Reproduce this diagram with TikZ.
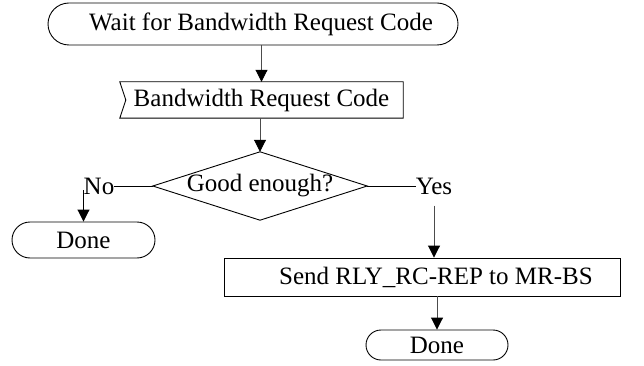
\documentclass[tikz,border=0pt]{standalone}
\usepackage{fontspec}
\setmainfont{Liberation Serif}
\usetikzlibrary{arrows.meta}
\begin{document}
\begin{tikzpicture}[x=1pt,y=-1pt,
  every node/.style={font=\fontsize{25}{28}\selectfont, inner sep=0pt},
  shp/.style={draw, line width=0.9pt},
  conn/.style={line width=0.9pt, draw=black!70},
  arr/.style={conn, -{Triangle[width=12pt,length=12pt,color=black]}}]
\useasboundingbox (0,0) rectangle (644,366);
\node[shp, rounded corners=21pt, minimum width=410pt, minimum height=42pt] (wait) at (253,24) {\hspace*{16pt}Wait for Bandwidth Request Code};
\node[minimum width=283pt, minimum height=36pt] (recv) at (261.5,100) {Bandwidth Request Code};
\draw[shp] (recv.north west) -- (recv.north east) -- (recv.south east) -- (recv.south west) -- ([xshift=6pt]recv.west) -- cycle;
\node[minimum width=214pt, minimum height=68pt] (dec) at (260,186) {Good enough?};
\draw[shp] (dec.north) -- (dec.east) -- (dec.south) -- (dec.west) -- cycle;
\node (no) at (99,186) {No};
\node (yes) at (434,186) {Yes};
\draw[shp] (dec.west) -- (no.east);
\draw[shp] (dec.east) -- (yes.west);
\node[shp, rounded corners=18pt, minimum width=143pt, minimum height=36pt] (done1) at (83.5,240) {Done};
\draw[arr, draw=black] ([yshift=-4pt]done1.north |- no.center) -- (done1.north);
\node[shp, minimum width=396pt, minimum height=38pt] (send) at (422,277) {\hspace*{28pt}Send RLY\_RC-REP to MR-BS};
\draw[arr] ([yshift=-11pt]yes.south) -- (yes.south |- send.north);
\node[shp, rounded corners=15pt, minimum width=142pt, minimum height=30pt] (done2) at (437,345) {Done};
\draw[arr] (send.south -| done2.north) -- (done2.north);
\draw[arr] (wait.south -| recv.north) -- (recv.north);
\draw[arr] (recv.south -| dec.north) -- (dec.north);
\end{tikzpicture}
\end{document}
